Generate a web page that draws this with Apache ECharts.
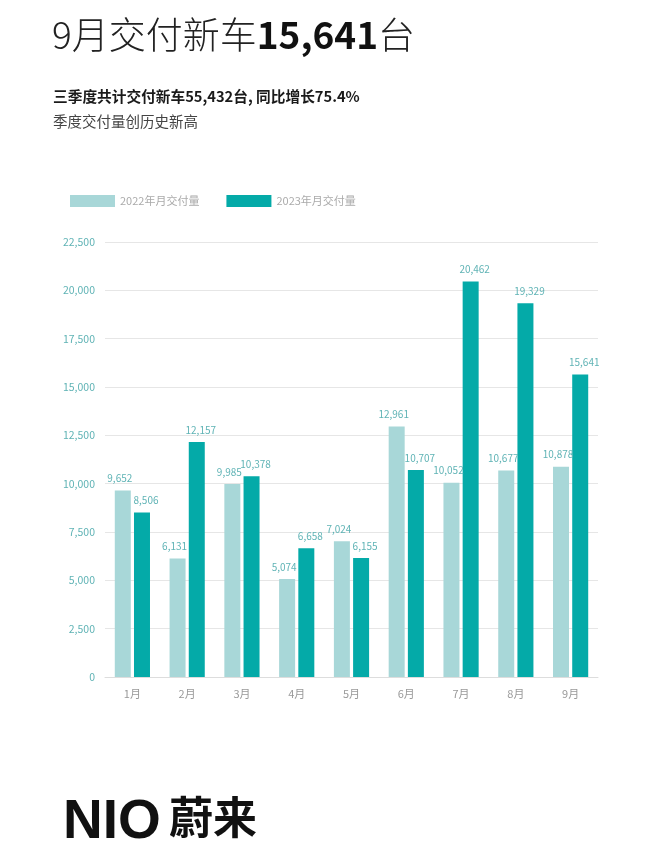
<!DOCTYPE html>
<html><head><meta charset="utf-8">
<script src="https://cdn.jsdelivr.net/npm/echarts@6/dist/echarts.min.js"></script>
<style>html,body{margin:0;padding:0;background:#fff;}#c{width:660px;height:867px;}</style>
</head><body><div id="c"></div>
<script>
var categories = ['1月','2月','3月','4月','5月','6月','7月','8月','9月'];
var series2022 = [9652, 6131, 9985, 5074, 7024, 12961, 10052, 10677, 10878];
var series2023 = [8506, 12157, 10378, 6658, 6155, 10707, 20462, 19329, 15641];
var seriesNames = ['2022年月交付量', '2023年月交付量'];
var yMax = 22500, yInterval = 2500;

var font = '"Noto Sans CJK SC","Noto Sans",sans-serif';
var chart = echarts.init(document.getElementById('c'));
function fmt(v){ return v.toLocaleString('en-US'); }
chart.setOption({
  backgroundColor: '#fff',
  animation: false,
  textStyle: { fontFamily: font },
  graphic: [
    { type: 'text', left: 52, top: 16, style: {
      rich: {
        a: { fontSize: 37, fontFamily: font, fill: '#222', fontWeight: 300 },
        b: { fontSize: 37, fontFamily: font, fill: '#111', fontWeight: 'bold' }
      },
      text: '{a|9月交付新车}{b|15,641}{a|台}'
    }},
    { type: 'text', left: 53, top: 89, style: { text: '三季度共计交付新车55,432台, 同比增长75.4%', fontSize: 14.7, fontWeight: 'bold', fill: '#1a1a1a', fontFamily: font } },
    { type: 'text', left: 53, top: 114, style: { text: '季度交付量创历史新高', fontSize: 14.5, fill: '#444', fontFamily: font } },
    { type: 'text', left: 63, top: 795, style: { text: 'NIO', fontSize: 55, fontWeight: 900, fill: '#111', fontFamily: '"Liberation Sans", Arial, sans-serif' } },
    { type: 'text', left: 169, top: 795, style: { text: '蔚来', fontSize: 44, fontWeight: 'bold', fill: '#111', fontFamily: font } }
  ],
  legend: {
    left: 65, top: 190, itemWidth: 45, itemHeight: 12, itemGap: 27,
    icon: 'rect',
    textStyle: { color: '#aaa', fontSize: 11, fontFamily: font },
    data: seriesNames
  },
  grid: { left: 105, right: 62, top: 242, bottom: 190 },
  xAxis: {
    type: 'category', data: categories,
    axisLine: { lineStyle: { color: '#ddd' } },
    axisTick: { show: false },
    axisLabel: { color: '#999', fontSize: 11, margin: 11 }
  },
  yAxis: {
    type: 'value', min: 0, max: yMax, interval: yInterval,
    axisLine: { show: false }, axisTick: { show: false },
    axisLabel: { color: '#5fb3b5', fontSize: 10.5, margin: 10, formatter: fmt },
    splitLine: { lineStyle: { color: '#e6e6e6' } }
  },
  series: [
    { name: seriesNames[0], type: 'bar', data: series2022, barWidth: 16, barGap: '20%',
      itemStyle: { color: '#a8d7d8' },
      label: { show: true, position: 'top', distance: 7, color: '#5fb3b5', fontSize: 10, offset: [-3, 0], formatter: function(p){ return fmt(p.value); } } },
    { name: seriesNames[1], type: 'bar', data: series2023, barWidth: 16,
      itemStyle: { color: '#04aaa8' },
      label: { show: true, position: 'top', distance: 7, color: '#5fb3b5', fontSize: 10, offset: [4, 0], formatter: function(p){ return fmt(p.value); } } }
  ]
});
</script></body></html>
